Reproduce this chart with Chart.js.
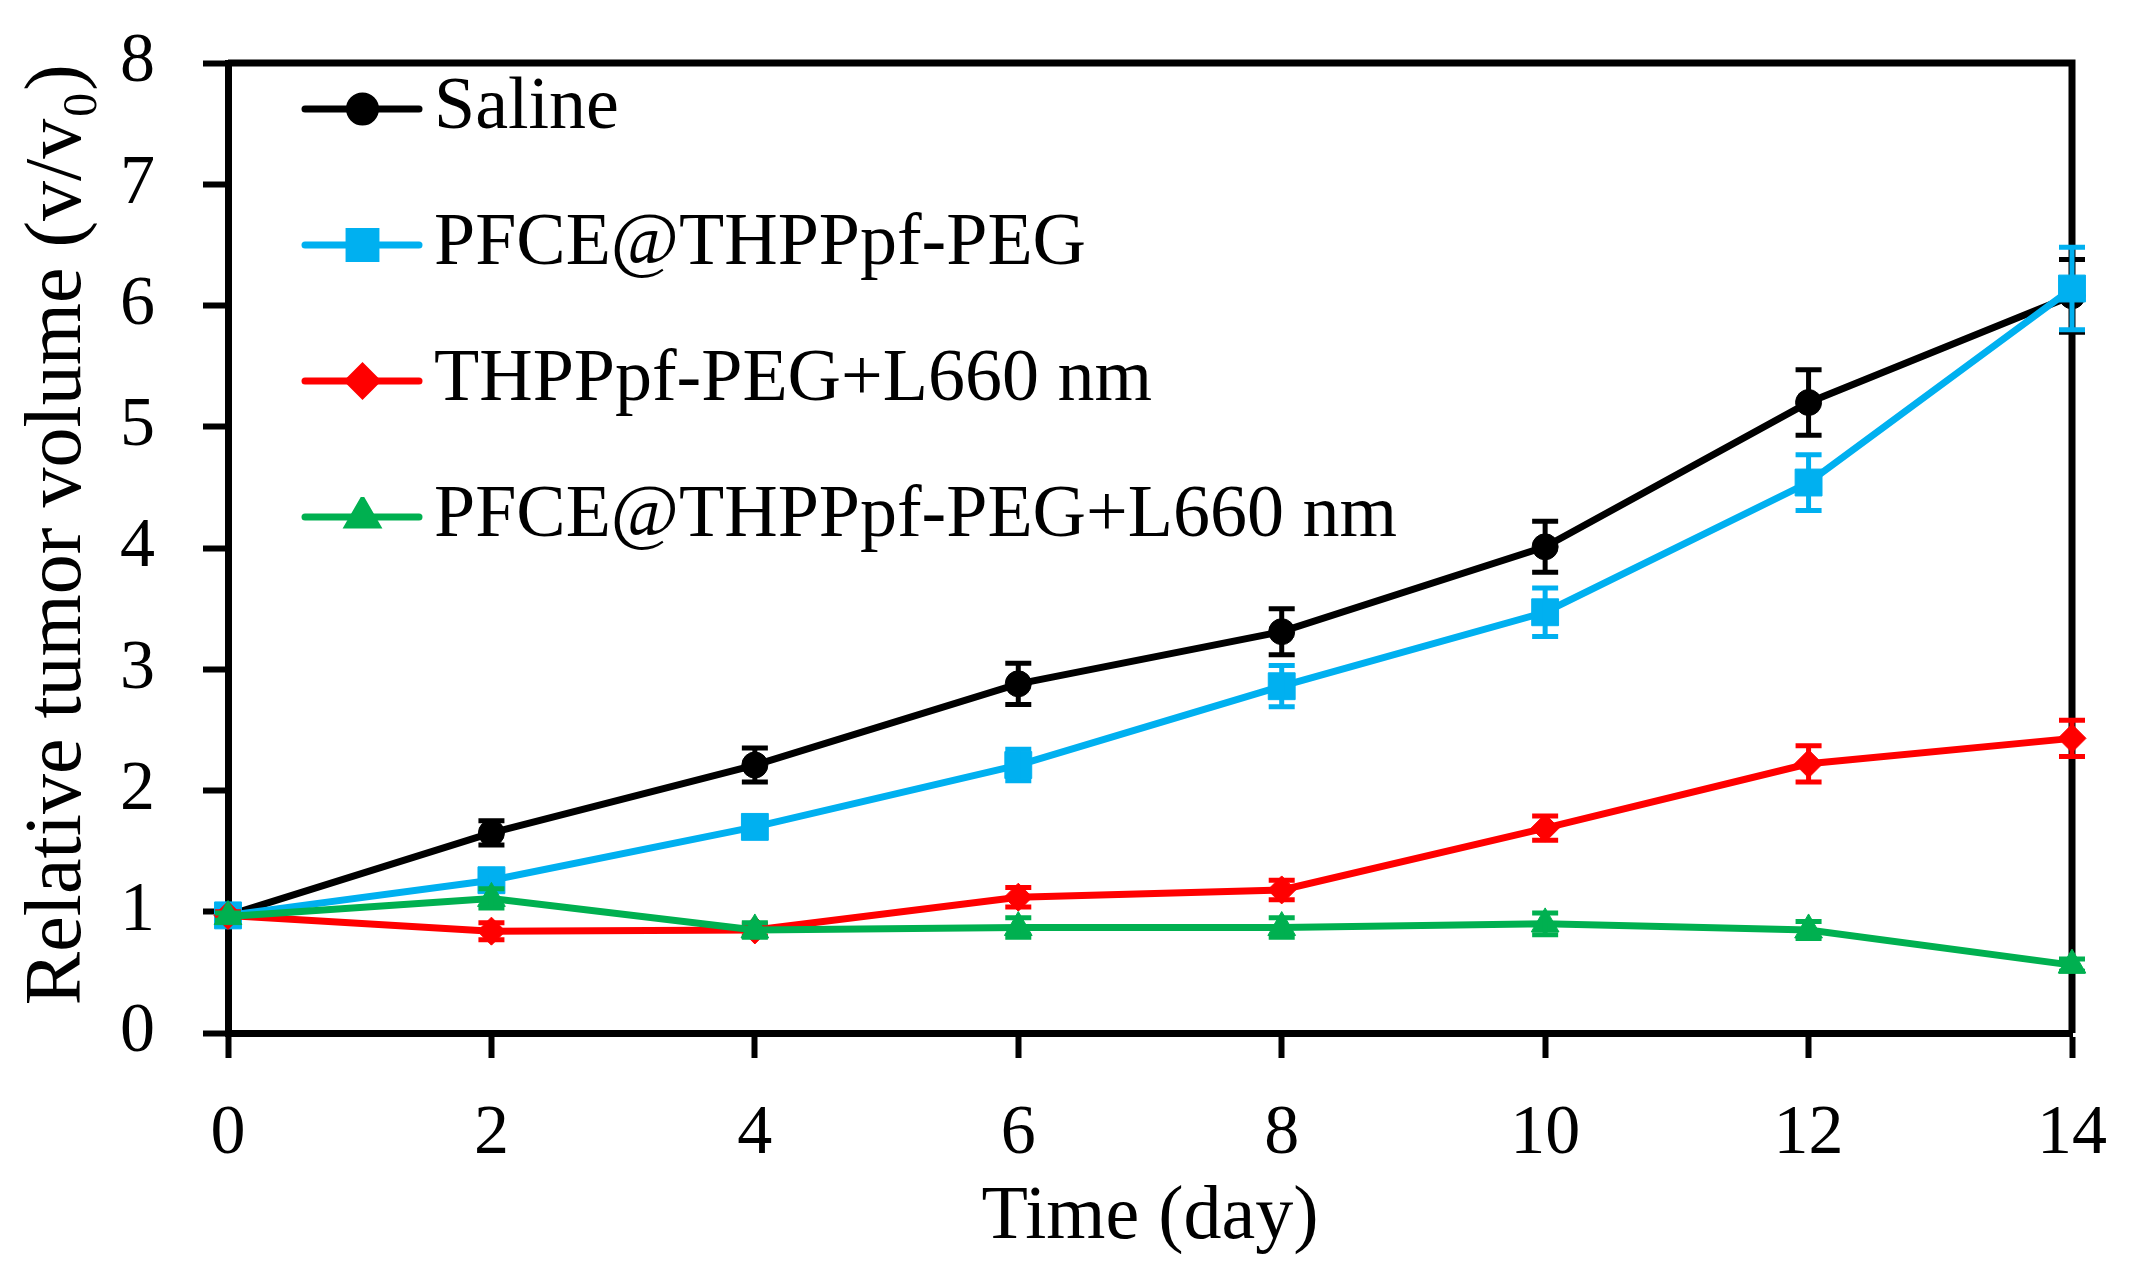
<!DOCTYPE html>
<html>
<head>
<meta charset="utf-8">
<script src="https://cdn.jsdelivr.net/npm/chart.js@4.4.1/dist/chart.umd.min.js"></script>
<style>
  html, body { margin:0; background:#fff; }
  #wrap { width:2129px; height:1282px; }
</style>
</head>
<body>
<div id="wrap"><canvas id="c" width="2129" height="1282"></canvas></div>
<script>
// values
const days = [0, 2, 4, 6, 8, 10, 12, 14];
const names = ['Saline', 'PFCE@THPPpf-PEG', 'THPPpf-PEG+L660 nm', 'PFCE@THPPpf-PEG+L660 nm'];
const saline    = [0.97, 1.65, 2.21, 2.88, 3.31, 4.01, 5.20, 6.08];
const salineErr = [0.03, 0.10, 0.14, 0.17, 0.19, 0.21, 0.27, 0.30];
const pfce      = [0.97, 1.26, 1.70, 2.21, 2.86, 3.47, 4.54, 6.14];
const pfceErr   = [0.03, 0.06, 0.08, 0.13, 0.17, 0.20, 0.23, 0.34];
const thpp      = [0.97, 0.84, 0.85, 1.12, 1.18, 1.69, 2.22, 2.43];
const thppErr   = [0.03, 0.07, 0.05, 0.08, 0.08, 0.10, 0.15, 0.15];
const pfceL     = [0.96, 1.11, 0.85, 0.87, 0.87, 0.90, 0.85, 0.56];
const pfceLErr  = [0.03, 0.08, 0.06, 0.08, 0.08, 0.09, 0.07, 0.05];

const colors = ['#000000', '#00B0F0', '#FF0000', '#00B050'];
const styles = ['circle', 'rect', 'rectRot', 'triangle'];
const radii  = [13, 19, 14, 16];
const errs   = [salineErr, pfceErr, thppErr, pfceLErr];
const FONT = "'Liberation Serif', 'DejaVu Serif', serif";

function pts(vals){ return days.map((d,i)=>({x:d, y:vals[i]})); }

// legend sample: line with the marker in the middle
function legendIcon(i){
  const c = document.createElement('canvas');
  c.width = 159; c.height = 40;
  const g = c.getContext('2d');
  g.strokeStyle = colors[i]; g.lineWidth = 7; g.lineCap = 'round';
  g.beginPath(); g.moveTo(41, 20); g.lineTo(155, 20); g.stroke();
  g.fillStyle = colors[i];
  Chart.helpers.drawPoint(g, {pointStyle:styles[i], radius:radii[i], borderWidth:1, rotation:0}, 98.5, 20);
  return c;
}

const errorBars = {
  id:'errorBars',
  afterDatasetDraw(chart, args){
    const ctx = chart.ctx, ys = chart.scales.y, i = args.index;
    const ds = chart.data.datasets[i];
    ctx.save();
    ctx.strokeStyle = colors[i]; ctx.lineWidth = 5;
    args.meta.data.forEach((p, k) => {
      const v = ds.data[k].y, e = errs[i][k];
      const t = ys.getPixelForValue(v + e), b = ys.getPixelForValue(v - e);
      ctx.beginPath();
      ctx.moveTo(p.x, t); ctx.lineTo(p.x, b);
      ctx.moveTo(p.x - 13, t); ctx.lineTo(p.x + 13, t);
      ctx.moveTo(p.x - 13, b); ctx.lineTo(p.x + 13, b);
      ctx.stroke();
    });
    ctx.restore();
  }
};

const frame = {
  id:'frame',
  beforeDatasetsDraw(chart){
    const {ctx, chartArea:a} = chart;
    ctx.save();
    ctx.strokeStyle = '#000'; ctx.lineWidth = 7;
    ctx.beginPath();
    ctx.moveTo(a.left, a.top); ctx.lineTo(a.right + 3.5, a.top);
    ctx.moveTo(a.right, a.top); ctx.lineTo(a.right, a.bottom);
    ctx.stroke();
    ctx.restore();
  },
  afterLayout(chart){
    // the vertical legend gets top = 0; put it where the figure has it
    const lg = chart.legend;
    if (lg){ lg.top = 10; lg.bottom = 10 + lg.height; }
  }
};

new Chart(document.getElementById('c'), {
  type:'line',
  data:{
    datasets:[saline, pfce, thpp, pfceL].map((vals, i) => ({
      label:names[i], data:pts(vals),
      borderColor:colors[i], backgroundColor:colors[i], borderWidth:7,
      pointStyle:styles[i], pointRadius:radii[i], pointBorderWidth:1,
      pointBorderColor:colors[i], pointBackgroundColor:colors[i],
      order:4 - i, clip:false, tension:0
    }))
  },
  options:{
    responsive:false, animation:false, devicePixelRatio:1,
    layout:{ padding:{ top:63, right:57, left:0, bottom:0 } },
    plugins:{
      tooltip:{ enabled:false },
      legend:{
        position:'chartArea', align:'start',
        labels:{
          usePointStyle:true, pointStyleWidth:107, padding:62, color:'#000',
          font:{ family:FONT, size:74 },
          generateLabels(chart){
            return chart.data.datasets.map((d, i) => ({
              text:d.label, datasetIndex:i, pointStyle:legendIcon(i),
              fillStyle:colors[i], strokeStyle:colors[i], lineWidth:0, hidden:false
            }));
          }
        }
      }
    },
    scales:{
      x:{
        type:'linear', min:0, max:14,
        afterFit(s){ s.height = 249; s.paddingLeft = 0; s.paddingRight = 0; },
        ticks:{ stepSize:2, color:'#000', padding:35, font:{ family:FONT, size:70 } },
        grid:{ drawOnChartArea:false, drawTicks:true, tickLength:25, tickWidth:6, tickColor:'#000' },
        border:{ display:true, color:'#000', width:7 },
        title:{ display:true, text:'Time (day)', color:'#000', padding:{ top:0, bottom:18 },
                font:{ family:FONT, size:76, lineHeight:1.2 } }
      },
      y:{
        min:0, max:8,
        afterFit(s){ s.width = 228; s.paddingTop = 0; s.paddingBottom = 0; },
        ticks:{ stepSize:1, color:'#000', padding:48, font:{ family:FONT, size:70 } },
        grid:{ drawOnChartArea:false, drawTicks:true, tickLength:25, tickWidth:6, tickColor:'#000' },
        border:{ display:true, color:'#000', width:7 },
        title:{ display:true, text:'\u2004Relative tumor volume (v/v\u2080)', color:'#000', padding:{ top:11, bottom:0 },
                font:{ family:FONT, size:80, lineHeight:1.2 } }
      }
    }
  },
  plugins:[errorBars, frame]
});
</script>
</body>
</html>
